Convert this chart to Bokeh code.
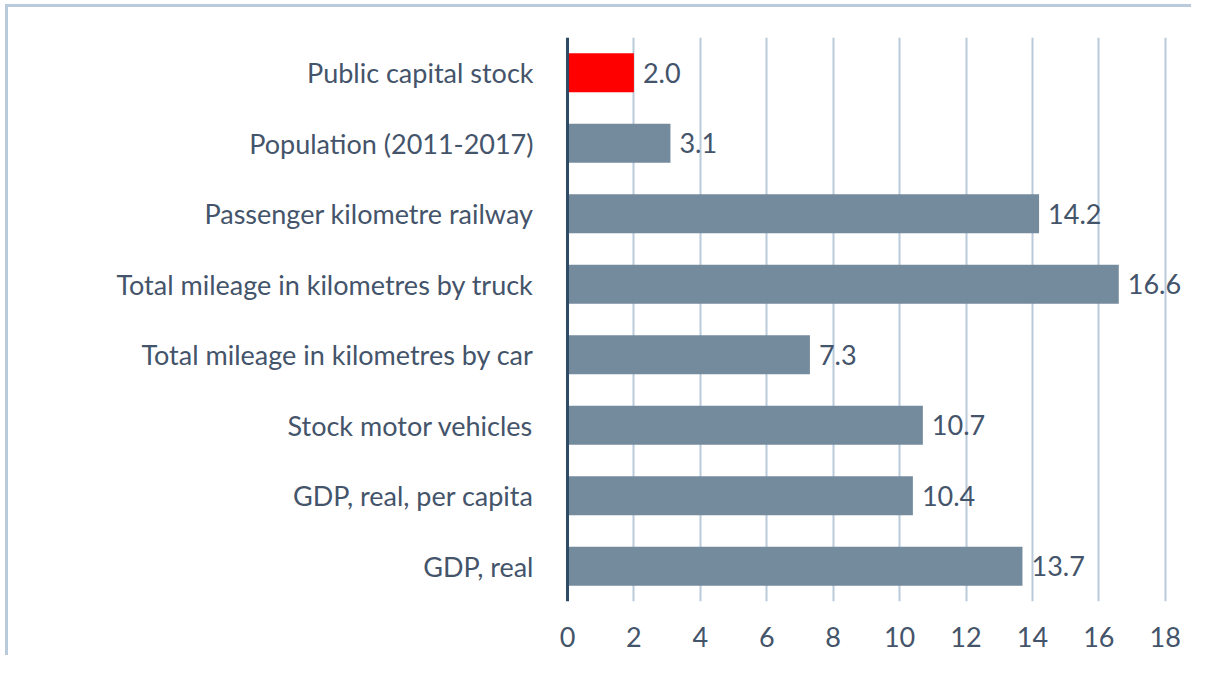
from bokeh.plotting import figure
from bokeh.models import ColumnDataSource, Span, FixedTicker
from bokeh.core.properties import value
from bokeh.embed import file_html
from bokeh.resources import INLINE

categories = ["GDP, real", "GDP, real, per capita", "Stock motor vehicles",
              "Total mileage in kilometres by car", "Total mileage in kilometres by truck",
              "Passenger kilometre railway", "Population (2011-2017)", "Public capital stock"]
values = [13.7, 10.4, 10.7, 7.3, 16.6, 14.2, 3.1, 2.0]
colors = ["#748a9d"] * 7 + ["#ff0000"]
x_ticks = [0, 2, 4, 6, 8, 10, 12, 14, 16, 18]

FONT = "Lato"
TEXT = "#44546a"
FS = "27px"

src = ColumnDataSource(dict(cat=categories, val=values, color=colors,
                            lab=[f"{v:.1f}" for v in values]))

p = figure(y_range=categories, x_range=(-0.06, 18.85), width=1186, height=651,
           output_backend="svg", toolbar_location=None,
           min_border_left=557, min_border_right=1, min_border_top=30, min_border_bottom=57)
p.styles = {"border-top": "3px solid #b9cbdb", "border-left": "3px solid #b9cbdb",
            "margin-left": "5px", "margin-top": "4px"}
p.outline_line_color = None

p.hbar(y="cat", right="val", left=0, height=0.55, color="color", line_color=None, source=src)
p.text(x="val", y="cat", text="lab", source=src, x_offset=9, text_baseline="middle",
       text_align="left", text_font=value(FONT), text_font_size=FS, text_color=TEXT)

p.add_layout(Span(location=0, dimension="height", line_color="#2e4a66", line_width=3))

p.xgrid.ticker = FixedTicker(ticks=x_ticks[1:])
p.xgrid.grid_line_color = "#b9cbdb"
p.xgrid.grid_line_width = 2
p.ygrid.grid_line_color = None

p.xaxis.ticker = FixedTicker(ticks=x_ticks)
p.xaxis.axis_line_color = None
p.xaxis.major_tick_line_color = None
p.xaxis.minor_tick_line_color = None
p.xaxis.major_label_standoff = 19
p.xaxis.major_label_text_font = FONT
p.xaxis.major_label_text_font_size = FS
p.xaxis.major_label_text_color = TEXT

p.yaxis.axis_line_color = None
p.yaxis.major_tick_line_color = None
p.yaxis.minor_tick_line_color = None
p.yaxis.major_label_standoff = 26
p.yaxis.major_label_text_font = FONT
p.yaxis.major_label_text_font_size = FS
p.yaxis.major_label_text_color = TEXT

open("out.html", "w").write(file_html(p, INLINE))
